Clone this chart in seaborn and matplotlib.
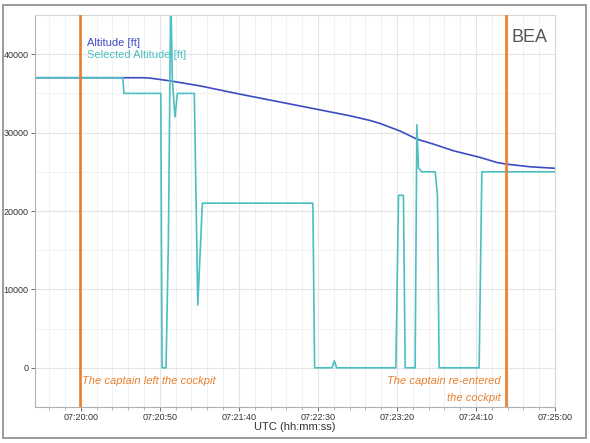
import numpy as np
import pandas as pd
import matplotlib
matplotlib.use("Agg")
import matplotlib.pyplot as plt
from matplotlib.patches import Rectangle
from matplotlib.ticker import MultipleLocator, FixedLocator
import seaborn as sns

# times are seconds relative to 07:20:00 UTC
alt_t = [-29, 39.4, 43.8, 56.5, 75.4, 100.8, 138.7, 170.4, 183.0, 189.4, 202.0,
         212.6, 223.1, 235.8, 252.7, 263.2, 268.9, 284.3, 300.0]
alt_ft = [37000, 37000, 36950, 36600, 35960, 34900, 33400, 32140, 31550, 31160,
          30200, 29170, 28530, 27680, 26830, 26190, 25990, 25640, 25450]

sel_t = [-29, 26.5, 27.3, 50.6, 51.4, 53.9, 55.4, 56.9, 57.9, 59.6, 61.1, 71.8,
         74.0, 76.9, 146.8, 147.9, 159.0, 160.4, 161.8, 199.3, 201.0, 204.1,
         205.2, 211.5, 212.6, 213.6, 215.7, 224.2, 225.6, 226.7, 252.0, 253.7,
         300.0]
sel_ft = [37000, 37000, 35000, 35000, 0, 0, 16200, 48000, 36600, 32000, 35000,
          35000, 8000, 21000, 21000, 0, 0, 900, 0, 0, 22000, 22000,
          0, 0, 31000, 25500, 25000, 25000, 22000, 0, 0, 25000,
          25000]

event_t = [-0.5, 269.0]
tick_labels = ["07:20:00", "07:20:50", "07:21:40", "07:22:30", "07:23:20",
               "07:24:10", "07:25:00"]
y_ticks = [0, 10000, 20000, 30000, 40000]


def to_sec(label):
    h, m, s = (int(v) for v in label.split(":"))
    return (h * 3600 + m * 60 + s) - (7 * 3600 + 20 * 60)


alt = pd.DataFrame({"t": alt_t, "ft": alt_ft})
sel = pd.DataFrame({"t": sel_t, "ft": sel_ft})

sns.set_style("white")
plt.rcParams["font.family"] = ["Liberation Sans", "DejaVu Sans"]

fig = plt.figure(figsize=(5.9, 4.43), dpi=100)
ax = fig.add_axes([0.0593, 0.0813, 0.8814, 0.8848])

blue = "#3d4bc4"
cyan = "#4cbfc2"
orange = "#e7802e"

sns.lineplot(data=alt, x="t", y="ft", ax=ax, color=blue, linewidth=1.2,
             sort=False, estimator=None)
sns.lineplot(data=sel, x="t", y="ft", ax=ax, color=cyan, linewidth=1.2,
             sort=False, estimator=None)
for t in event_t:
    ax.axvline(t, color=orange, linewidth=1.9, zorder=5)

ax.set_xlim(-29, 300)
ax.set_ylim(-5000, 45000)

ax.xaxis.set_major_locator(FixedLocator([to_sec(l) for l in tick_labels]))
ax.set_xticklabels(tick_labels)
ax.xaxis.set_minor_locator(MultipleLocator(10))
ax.set_yticks(y_ticks)
ax.yaxis.set_minor_locator(MultipleLocator(5000))

ax.grid(True, which="major", color="#e4e4e4", linewidth=0.8)
ax.grid(True, which="minor", color="#f1f1f1", linewidth=0.7)
ax.set_axisbelow(True)

ax.tick_params(axis="both", which="major", labelsize=6.5, colors="#555555",
               length=3, width=0.6, direction="out", labelcolor="#333333", pad=1.5)
ax.tick_params(axis="both", which="minor", length=2, width=0.5, colors="#999999")
ax.tick_params(axis="y", which="minor", length=0)
ax.tick_params(axis="x", bottom=True, which="both")
ax.tick_params(axis="y", left=True)

for side in ["left", "bottom"]:
    ax.spines[side].set_color("#b0b0b0")
    ax.spines[side].set_linewidth(0.8)
for side in ["top", "right"]:
    ax.spines[side].set_color("#d6d6d6")
    ax.spines[side].set_linewidth(0.8)

ax.set_xlabel("UTC (hh:mm:ss)", fontsize=8, color="#333333", labelpad=0)
ax.set_ylabel("")

ax.text(0.1, 0.929, "Altitude [ft]", transform=ax.transAxes, color=blue,
        fontsize=8, va="center", ha="left")
ax.text(0.1, 0.898, "Selected Altitude [ft]", transform=ax.transAxes, color=cyan,
        fontsize=8, va="center", ha="left")

ax.text(event_t[0] + 1.5, -1650, "The captain left the cockpit", color=orange,
        fontsize=8, style="italic", ha="left", va="center")
ax.text(event_t[1] - 3.5, -1650, "The captain re-entered", color=orange,
        fontsize=8, style="italic", ha="right", va="center")
ax.text(event_t[1] - 3.5, -3800, "the cockpit", color=orange,
        fontsize=8, style="italic", ha="right", va="center")

ax.text(0.985, 0.965, "BEA", transform=ax.transAxes, color="#555555",
        fontsize=13, ha="right", va="top", zorder=6)

fig.patches.append(Rectangle((0.005, 0.011), 0.989, 0.978, transform=fig.transFigure,
                             fill=False, edgecolor="#8a8a8a", linewidth=1.2))

fig.savefig("out.png", dpi=100)
